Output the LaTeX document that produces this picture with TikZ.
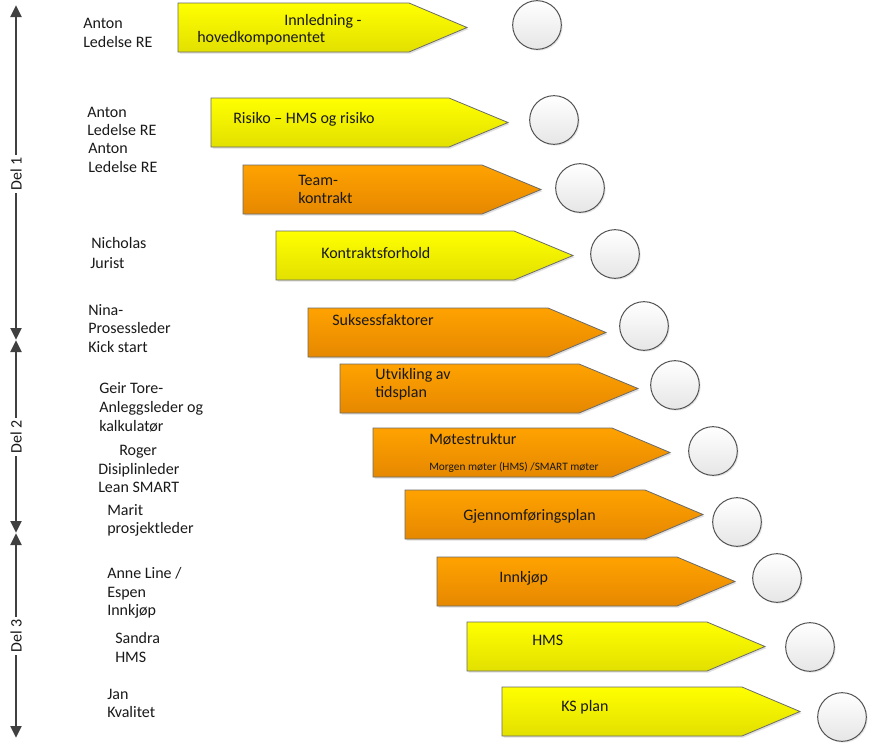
\documentclass[tikz,border=0pt]{standalone}
\usepackage{fontspec}
\setmainfont{Carlito}
\usetikzlibrary{arrows.meta,shadows}
\definecolor{axisgray}{HTML}{404040}
\definecolor{edgegray}{HTML}{6A6A6A}
\definecolor{yelTop}{HTML}{FFFF00}
\definecolor{yelBot}{HTML}{E2E000}
\definecolor{orTop}{HTML}{FFA200}
\definecolor{orBot}{HTML}{E68800}
\definecolor{circBot}{HTML}{E6E6E6}
\newcommand\plate[6]{%
  \path[#5] (#1,#2) coordinate (#6) -- ++(#3,0) -- ++(#4,24.5) -- ++(-#4,24.5) -- ++(-#3,0) -- cycle;}
\tikzset{
  yelplate/.style={draw=edgegray,line width=0.6pt,top color=yelTop,bottom color=yelBot,
    drop shadow={shadow xshift=1.2pt,shadow yshift=-1.2pt,opacity=0.25}},
  orplate/.style={draw=edgegray,line width=0.6pt,top color=orTop,bottom color=orBot,
    drop shadow={shadow xshift=1.2pt,shadow yshift=-1.2pt,opacity=0.25}},
  circ/.style={circle,draw=axisgray!90,line width=0.75pt,minimum size=36.5pt,inner sep=0pt,
    top color=white,bottom color=circBot,
    drop shadow={shadow xshift=1pt,shadow yshift=-1pt,opacity=0.2}},
  lbl/.style={anchor=base west,inner sep=0pt,font=\fontsize{12}{14}\selectfont,text=black!90},
  atxt/.style={anchor=base west,inner sep=0pt,font=\fontsize{12}{14}\selectfont,text=black!90},
  axline/.style={draw=axisgray,line width=2.2pt,{Triangle[length=9pt,width=8pt]}-{Triangle[length=9pt,width=8pt]}},
  dellbl/.style={fill=white,rotate=90,inner sep=1.5pt,font=\fontsize{12}{14}\selectfont,text=black!90}
}
\begin{document}
\begin{tikzpicture}[x=0.75pt,y=-0.75pt]
\useasboundingbox (0,0) rectangle (875,743);
% axis
\coordinate (a0) at (16,5);
\coordinate (a1) at (16,340);
\coordinate (a2) at (16,533);
\coordinate (a3) at (16,738);
\draw[axline] (a1) -- (a0);
\draw[axline] (a1) -- (a2);
\draw[axline] (a2) -- (a3);
\node[dellbl] (del1) at (16,174) {Del 1};
\node[dellbl] (del2) at (16,437) {Del 2};
\node[dellbl] (del3) at (16,636) {Del 3};
% plates
\plate{178}{3}{231}{58}{yelplate}{p1}
\plate{211}{98}{238}{59}{yelplate}{p2}
\plate{243}{165}{239}{59}{orplate}{p3}
\plate{276}{231}{238}{59}{yelplate}{p4}
\plate{308}{308}{240}{58}{orplate}{p5}
\plate{340}{364}{239}{59}{orplate}{p6}
\plate{373}{428}{239}{58}{orplate}{p7}
\plate{405}{490}{240}{58}{orplate}{p8}
\plate{437}{557}{240}{58}{orplate}{p9}
\plate{467}{622}{240}{58}{yelplate}{p10}
\plate{502}{687}{240}{58}{yelplate}{p11}
% circles
\node[circ] (c1) at (537,25) {};
\node[circ] (c2) at (554,120) {};
\node[circ] (c3) at (580,188) {};
\node[circ] (c4) at (615,254) {};
\node[circ] (c5) at (644,326) {};
\node[circ] (c6) at (675,385) {};
\node[circ] (c7) at (713,451) {};
\node[circ] (c8) at (737,522) {};
\node[circ] (c9) at (777,578) {};
\node[circ] (c10) at (810,647) {};
\node[circ] (c11) at (842,717) {};
% plate texts
\node[atxt] (t1a) at (284,25) {Innledning -};
\node[atxt] (t1b) at (197,42) {hovedkomponentet};
\node[atxt] (t2) at (233,123) {Risiko – HMS og risiko};
\node[atxt] (t3a) at (298,185) {Team-};
\node[atxt] (t3b) at (298,203) {kontrakt};
\node[atxt] (t4) at (321,258) {Kontraktsforhold};
\node[atxt] (t5) at (332,325) {Suksessfaktorer};
\node[atxt] (t6a) at (375,379) {Utvikling av};
\node[atxt] (t6b) at (375,397) {tidsplan};
\node[atxt] (t7a) at (429,444) {Møtestruktur};
\node[atxt,font=\fontsize{8.5}{10}\selectfont] (t7b) at (429,470) {Morgen møter (HMS) /SMART møter};
\node[atxt] (t8) at (463,520) {Gjennomføringsplan};
\node[atxt] (t9) at (499,582) {Innkjøp};
\node[atxt] (t10) at (532,645) {HMS};
\node[atxt] (t11) at (561,711) {KS plan};
% left labels
\node[lbl] (l1a) at (83,28) {Anton};
\node[lbl] (l1b) at (83,47) {Ledelse RE};
\node[lbl] (l2a) at (87,117) {Anton};
\node[lbl] (l2b) at (87,135) {Ledelse RE};
\node[lbl] (l2c) at (88,153) {Anton};
\node[lbl] (l2d) at (88,172) {Ledelse RE};
\node[lbl] (l3a) at (91,248) {Nicholas};
\node[lbl] (l3b) at (90,268) {Jurist};
\node[lbl] (l4a) at (88,315) {Nina-};
\node[lbl] (l4b) at (88,333) {Prosessleder};
\node[lbl] (l4c) at (88,352) {Kick start};
\node[lbl] (l5a) at (99,393) {Geir Tore-};
\node[lbl] (l5b) at (99,412) {Anleggsleder og};
\node[lbl] (l5c) at (99,431) {kalkulatør};
\node[lbl] (l6a) at (119,455) {Roger};
\node[lbl] (l6b) at (98,474) {Disiplinleder};
\node[lbl] (l6c) at (98,492) {Lean SMART};
\node[lbl] (l7a) at (107,515) {Marit};
\node[lbl] (l7b) at (107,533) {prosjektleder};
\node[lbl] (l8a) at (107,578) {Anne Line /};
\node[lbl] (l8b) at (107,597) {Espen};
\node[lbl] (l8c) at (107,615) {Innkjøp};
\node[lbl] (l9a) at (115,643) {Sandra};
\node[lbl] (l9b) at (115,662) {HMS};
\node[lbl] (l10a) at (107,699) {Jan};
\node[lbl] (l10b) at (107,717) {Kvalitet};
\end{tikzpicture}
\end{document}
